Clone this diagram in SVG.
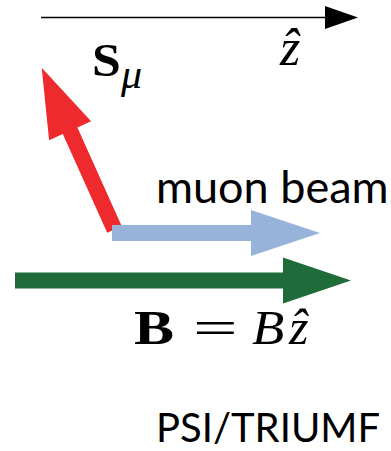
<svg xmlns="http://www.w3.org/2000/svg" width="391" height="451" viewBox="0 0 391 451">
<style>
.sans{font-family:Lato,"Open Sans","Liberation Sans",sans-serif;fill:#000}
.math{font-family:"Liberation Serif","DejaVu Serif",serif;fill:#000}
.bf{font-weight:bold}
.it{font-style:italic}
</style>
<rect width="391" height="451" fill="#fff"/>
<g id="axis">
<line x1="41" y1="17.5" x2="326" y2="17.5" stroke="#000" stroke-width="1.5"/>
<polygon points="325,6 358,17.5 325,29" fill="#000"/>
<text class="math it" x="280" y="65" font-size="52">ẑ</text>
</g>
<g id="connectors">
<polygon id="spin" points="107.2,232.8 62.8,134.1 49.1,140.3 41.7,67.7 91.1,121.3 77.4,127.5 121.8,226.2" fill="#ee2a2e"/>
<polygon id="beam" points="112,225 251,225 251,210 320,233 251,256 251,241 112,241" fill="#98b3d9"/>
<polygon id="field" points="15,272.5 283,272.5 283,257.5 351,280.5 283,303.5 283,288.5 15,288.5" fill="#1f6b3a"/>
</g>
<g id="spin-label">
<text class="math bf" transform="translate(92,76) scale(1.1,1)" font-size="47">S</text>
<text class="math it" x="121" y="88" font-size="42">μ</text>
</g>
<g id="beam-label">
<text class="sans" x="156" y="203" font-size="45">muon beam</text>
</g>
<g id="field-label">
<text class="math bf" transform="translate(134,344) scale(1.25,1)" font-size="48">B</text>
<text class="math" transform="translate(193,344) scale(1.65,1)" font-size="48">=</text>
<text class="math it" transform="translate(252,344) scale(1.1,1)" font-size="48">B</text>
<text class="math it" x="289" y="344" font-size="50">ẑ</text>
</g>
<g id="source-label">
<text class="sans" x="156" y="442" font-size="40">PSI/TRIUMF</text>
</g>
</svg>
